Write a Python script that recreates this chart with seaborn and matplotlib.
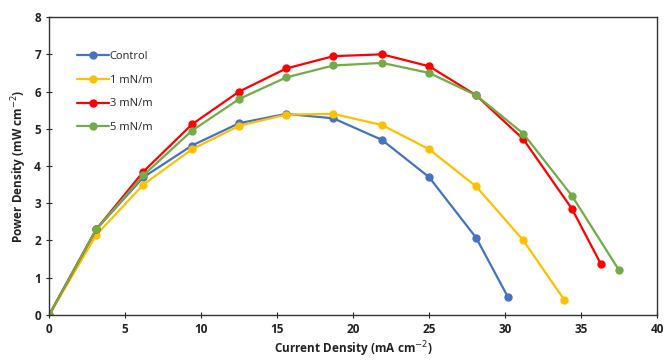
import pandas as pd
import numpy as np
import matplotlib
matplotlib.use("Agg")
import matplotlib.pyplot as plt
import seaborn as sns

# Datos
control_x = [0, 3.1, 6.2, 9.4, 12.5, 15.6, 18.7, 21.9, 25.0, 28.1, 30.2]
control_y = [0, 2.3, 3.7, 4.55, 5.15, 5.4, 5.28, 4.7, 3.7, 2.07, 0.47]

uno_x = [0, 3.1, 6.2, 9.4, 12.5, 15.6, 18.7, 21.9, 25.0, 28.1, 31.2, 33.9]
uno_y = [0, 2.15, 3.5, 4.45, 5.08, 5.38, 5.4, 5.1, 4.45, 3.45, 2.0, 0.4]

tres_x = [0, 3.1, 6.2, 9.4, 12.5, 15.6, 18.7, 21.9, 25.0, 28.1, 31.2, 34.4, 36.3]
tres_y = [0, 2.3, 3.85, 5.12, 6.0, 6.62, 6.95, 7.0, 6.68, 5.9, 4.72, 2.85, 1.37]

cinco_x = [0, 3.1, 6.2, 9.4, 12.5, 15.6, 18.7, 21.9, 25.0, 28.1, 31.2, 34.4, 37.5]
cinco_y = [0, 2.3, 3.75, 4.95, 5.8, 6.38, 6.7, 6.77, 6.5, 5.9, 4.87, 3.2, 1.2]

series = ["Control", "1 mN/m", "3 mN/m", "5 mN/m"]
colores = ["#4472C4", "#FFC000", "#FF0000", "#70AD47"]

# Armo un DataFrame largo para seaborn
df = pd.concat([
    pd.DataFrame({"x": control_x, "y": control_y, "serie": series[0]}),
    pd.DataFrame({"x": uno_x, "y": uno_y, "serie": series[1]}),
    pd.DataFrame({"x": tres_x, "y": tres_y, "serie": series[2]}),
    pd.DataFrame({"x": cinco_x, "y": cinco_y, "serie": series[3]}),
], ignore_index=True)

sns.set_style("white")
plt.rcParams['font.family'] = ['Open Sans', 'DejaVu Sans']

fig = plt.figure(figsize=(6.65, 3.64), dpi=100)
ax = fig.add_axes([0.074, 0.135, 0.914, 0.818])

sns.lineplot(data=df, x="x", y="y", hue="serie", hue_order=series,
             palette=colores, marker="o", markersize=6, markeredgewidth=0,
             linewidth=1.6, sort=False, estimator=None, ax=ax)

ax.set_xlim(0, 40)
ax.set_ylim(0, 8)
ax.set_xticks(range(0, 41, 5))
ax.set_yticks(range(0, 9))
ax.tick_params(bottom=True, left=True, direction="inout", length=5, width=0.8,
               labelsize=8.5, colors="#222222")
for lab in ax.get_xticklabels() + ax.get_yticklabels():
    lab.set_fontweight("bold")

for s in ax.spines.values():
    s.set_color("#333333")
    s.set_linewidth(1.0)

ax.set_xlabel("Current Density (mA cm$^{-2}$)", fontsize=8.5, fontweight="bold", color="#222222", labelpad=2)
ax.set_ylabel("Power Density (mW cm$^{-2}$)", fontsize=8.5, fontweight="bold", color="#222222", labelpad=4)

ax.legend(loc="upper left", bbox_to_anchor=(0.03, 0.92), frameon=False, fontsize=8,
          handlelength=2.8, labelspacing=1.15, handletextpad=0.1)

fig.savefig("out.png", dpi=100)
